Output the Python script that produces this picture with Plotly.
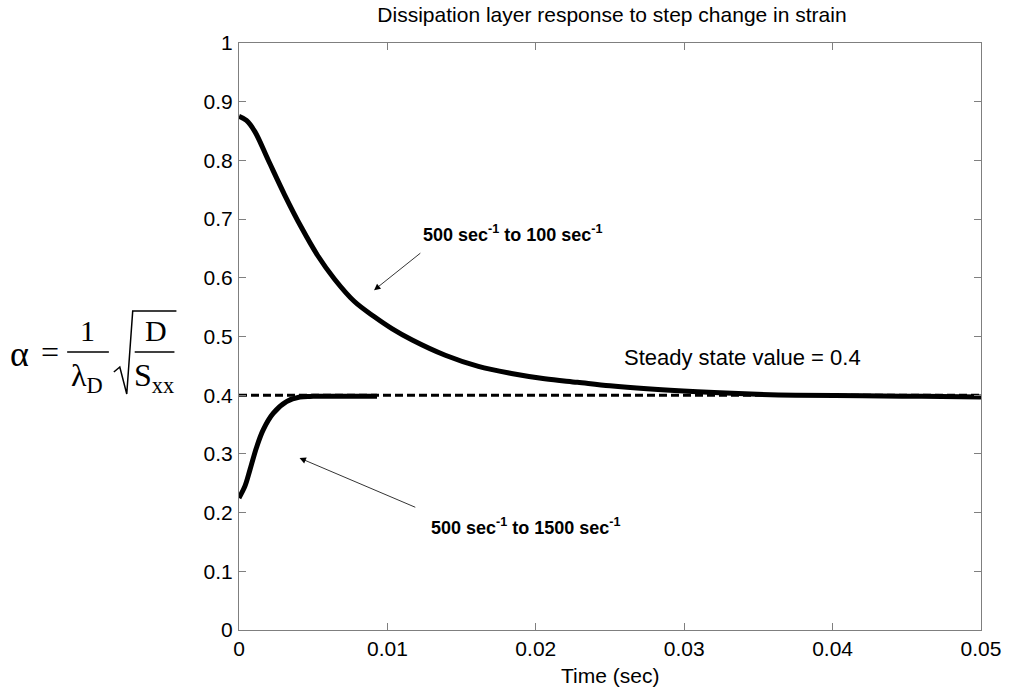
import plotly.graph_objects as go

# Strain step 500 -> 100 1/s : dissipation-layer parameter alpha vs time
t_down = [0, 0.0005, 0.00107, 0.00196, 0.00308, 0.0042, 0.0053, 0.00643, 0.00776,
          0.0091, 0.01033, 0.01167, 0.0139, 0.01613, 0.01836, 0.0206, 0.0228,
          0.025, 0.0275, 0.0309, 0.0345, 0.0375, 0.042, 0.046, 0.05]
alpha_down = [0.875, 0.868, 0.849, 0.801, 0.741, 0.686, 0.638, 0.598, 0.560,
              0.534, 0.513, 0.494, 0.468, 0.449, 0.437, 0.428, 0.422,
              0.416, 0.411, 0.406, 0.402, 0.400, 0.399, 0.398, 0.397]

# Strain step 500 -> 1500 1/s
t_up = [0, 0.0004, 0.00074, 0.00118, 0.00163, 0.0023, 0.0032, 0.0041, 0.005, 0.0093]
alpha_up = [0.225, 0.245, 0.273, 0.311, 0.341, 0.369, 0.389, 0.397, 0.398, 0.398]

# Steady state reference
t_steady = [0, 0.05]
alpha_steady = [0.4, 0.4]

x_ticks = [0, 0.01, 0.02, 0.03, 0.04, 0.05]
x_ticklabels = ["0", "0.01", "0.02", "0.03", "0.04", "0.05"]
y_ticks = [0, 0.1, 0.2, 0.3, 0.4, 0.5, 0.6, 0.7, 0.8, 0.9, 1]
y_ticklabels = ["0", "0.1", "0.2", "0.3", "0.4", "0.5", "0.6", "0.7", "0.8", "0.9", "1"]

W, H = 1013, 694
L, R, T, B = 239, 27, 43, 64
PW, PH = W - L - R, H - T - B
SANS = "Liberation Sans, Arial"
SERIF = "Liberation Serif, Times New Roman"


def px(xp, yp):
    """Pixel position in the page -> paper coordinates."""
    return (xp - L) / PW, (H - B - yp) / PH


fig = go.Figure()
fig.add_trace(go.Scatter(x=t_steady, y=alpha_steady, mode="lines",
                         line=dict(color="black", width=3, dash="8px,4px"),
                         showlegend=False, hoverinfo="skip"))
fig.add_trace(go.Scatter(x=t_down, y=alpha_down, mode="lines",
                         line=dict(color="black", width=5, shape="spline", smoothing=1.0),
                         showlegend=False))
fig.add_trace(go.Scatter(x=t_up, y=alpha_up, mode="lines",
                         line=dict(color="black", width=5, shape="spline", smoothing=1.0),
                         showlegend=False))

axis_common = dict(showgrid=False, zeroline=False, showline=True, linecolor="#7f7f7f",
                   linewidth=1, mirror="ticks", ticks="inside", ticklen=7,
                   tickcolor="#7f7f7f", tickwidth=1,
                   tickfont=dict(family=SANS, size=21, color="black"))

fig.update_xaxes(range=[0, 0.05], tickvals=x_ticks, ticktext=x_ticklabels, **axis_common)
fig.update_yaxes(range=[0, 1], tickvals=y_ticks, ticktext=y_ticklabels,
                 ticklabelstandoff=1, **axis_common)

annotations = []
# Arrow: 500 -> 100
annotations.append(dict(x=0.0091, y=0.579, ax=0.01232, ay=0.644, xref="x", yref="y",
                        axref="x", ayref="y", text="", showarrow=True, arrowhead=2,
                        arrowsize=1.6, arrowwidth=0.8, arrowcolor="black"))
annotations.append(dict(x=0.01225, y=0.676, xref="x", yref="y", xanchor="left",
                        yanchor="middle", showarrow=False,
                        text="<b>500 sec<sup>-1</sup> to 100 sec<sup>-1</sup></b>",
                        font=dict(family=SANS, size=18, color="black")))
# Arrow: 500 -> 1500
annotations.append(dict(x=0.00408, y=0.293, ax=0.01198, ay=0.208, xref="x", yref="y",
                        axref="x", ayref="y", text="", showarrow=True, arrowhead=2,
                        arrowsize=1.6, arrowwidth=0.8, arrowcolor="black"))
annotations.append(dict(x=0.01279, y=0.176, xref="x", yref="y", xanchor="left",
                        yanchor="middle", showarrow=False,
                        text="<b>500 sec<sup>-1</sup> to 1500 sec<sup>-1</sup></b>",
                        font=dict(family=SANS, size=18, color="black")))
annotations.append(dict(x=0.0258, y=0.464, xref="x", yref="y", xanchor="left",
                        yanchor="middle", showarrow=False, text="Steady state value = 0.4",
                        font=dict(family=SANS, size=22, color="black")))

# Axis title
xa, ya = px(612, 675)
annotations.append(dict(x=xa, y=ya, xref="paper", yref="paper", showarrow=False,
                        text="Time (sec)", xanchor="center", yanchor="middle",
                        font=dict(family=SANS, size=21, color="black")))


# y-axis label: alpha = (1/lambda_D) * sqrt(D / S_xx)
def formula_text(xp, yp, txt, size):
    fx, fy = px(xp, yp)
    annotations.append(dict(x=fx, y=fy, xref="paper", yref="paper", showarrow=False,
                            text=txt, xanchor="center", yanchor="middle",
                            font=dict(family=SERIF, size=size, color="black")))


formula_text(18, 354, "α", 36)
formula_text(49, 352, "=", 32)
formula_text(86, 330, "1", 30)
formula_text(86, 377, "λ<sub>D</sub>", 32)
formula_text(155, 330, "D", 30)
formula_text(153, 377, "S<sub>xx</sub>", 32)

shapes = []
x0, y0 = px(66, 352)
x1, y1 = px(108, 352)
shapes.append(dict(type="line", xref="paper", yref="paper", x0=x0, y0=y0, x1=x1, y1=y1,
                   line=dict(color="black", width=1.5)))
x0, y0 = px(134, 352)
x1, y1 = px(174, 352)
shapes.append(dict(type="line", xref="paper", yref="paper", x0=x0, y0=y0, x1=x1, y1=y1,
                   line=dict(color="black", width=1.5)))
# radical sign
pts = [px(113, 372), px(119, 367), px(126, 394), px(132, 311), px(176, 311)]
path = "M " + " L ".join(f"{a},{b}" for a, b in pts)
shapes.append(dict(type="path", xref="paper", yref="paper", path=path,
                   line=dict(color="black", width=1.5)))

fig.update_layout(
    width=W, height=H,
    margin=dict(l=L, r=R, t=T, b=B),
    paper_bgcolor="white", plot_bgcolor="white",
    title=dict(text="Dissipation layer response to step change in strain",
               x=612 / W, xanchor="center", y=1 - 15 / H, yanchor="middle",
               yref="container",
               font=dict(family=SANS, size=21, color="black")),
    annotations=annotations,
    shapes=shapes,
    showlegend=False,
)

fig.write_html("out.html")
